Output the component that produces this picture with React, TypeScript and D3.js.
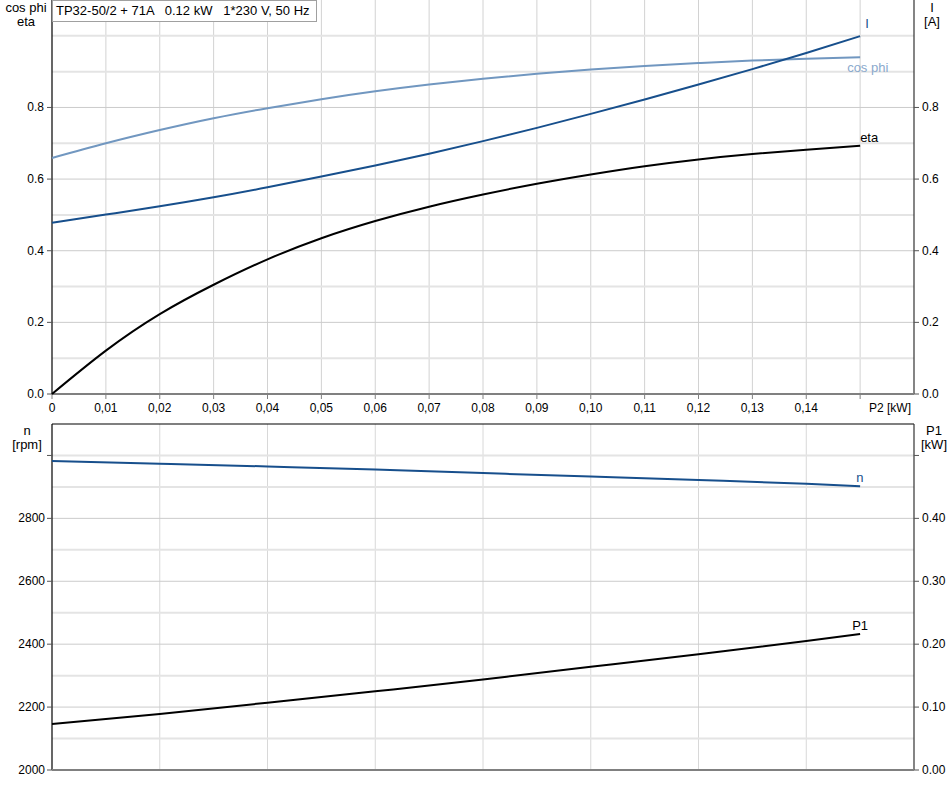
import React from "react";
import * as d3 from "d3";

// ---------- data ----------
const p2Top = [0, 0.01, 0.02, 0.03, 0.04, 0.05, 0.06, 0.07, 0.08, 0.09, 0.1, 0.11, 0.12, 0.13, 0.14, 0.15];
const cosPhi = [0.659, 0.7, 0.737, 0.77, 0.798, 0.823, 0.845, 0.864, 0.88, 0.894, 0.906, 0.916, 0.924, 0.931, 0.936, 0.94];
const current = [0.478, 0.501, 0.524, 0.549, 0.577, 0.607, 0.638, 0.671, 0.706, 0.743, 0.782, 0.822, 0.864, 0.907, 0.952, 0.999];
const eta = [0, 0.121, 0.223, 0.305, 0.376, 0.435, 0.483, 0.523, 0.557, 0.587, 0.613, 0.636, 0.655, 0.67, 0.682, 0.693];

const p2Bottom = [0, 0.02, 0.04, 0.06, 0.08, 0.1, 0.12, 0.14, 0.15];
const speed = [2982, 2974, 2965, 2955, 2944, 2933, 2922, 2910, 2902];
const p1 = [0.073, 0.089, 0.107, 0.125, 0.144, 0.164, 0.184, 0.205, 0.216];

const xTicks = [0, 0.01, 0.02, 0.03, 0.04, 0.05, 0.06, 0.07, 0.08, 0.09, 0.1, 0.11, 0.12, 0.13, 0.14];
const xTickLabels = ["0", "0,01", "0,02", "0,03", "0,04", "0,05", "0,06", "0,07", "0,08", "0,09", "0,10", "0,11", "0,12", "0,13", "0,14"];
const topYTicks = [0, 0.2, 0.4, 0.6, 0.8];
const topYLabels = ["0.0", "0.2", "0.4", "0.6", "0.8"];
const nTicks = [2000, 2200, 2400, 2600, 2800];
const p1Ticks = [0, 0.1, 0.2, 0.3, 0.4];
const p1Labels = ["0.00", "0.10", "0.20", "0.30", "0.40"];

const title = "TP32-50/2 + 71A   0.12 kW   1*230 V, 50 Hz";

// ---------- layout ----------
const L = 52, R = 914;
const TOP_T = 0, TOP_B = 394;
const BOT_T = 424, BOT_B = 770;

const FONT = "Arial, 'Liberation Sans', sans-serif";
const DARK_BLUE = "#174f8c";
const LIGHT_BLUE = "#7197c0";

export default function App() {
  const x = d3.scaleLinear().domain([0, 0.16]).range([L, R]);
  const yTop = d3.scaleLinear().domain([0, 1.1]).range([TOP_B, TOP_T]);
  const yN = d3.scaleLinear().domain([2000, 3100]).range([BOT_B, BOT_T]);
  const yP1 = d3.scaleLinear().domain([0, 0.55]).range([BOT_B, BOT_T]);

  const lineTop = (vals: number[]) =>
    d3.line<number>().x((_, i) => x(p2Top[i])).y((d) => yTop(d)).curve(d3.curveNatural)(vals) || "";
  const lineBot = (vals: number[], ys: d3.ScaleLinear<number, number>) =>
    d3.line<number>().x((_, i) => x(p2Bottom[i])).y((d) => ys(d)).curve(d3.curveNatural)(vals) || "";

  const topH = d3.range(1, 11).map((k) => k / 10);
  const topV = d3.range(1, 16).map((k) => k / 100);
  const botH = d3.range(2100, 3100, 100);
  const botV = d3.range(1, 8).map((k) => (k * 2) / 100);

  const lastTop = p2Top.length - 1;
  const lastBot = p2Bottom.length - 1;

  return (
    <svg width={952} height={788} style={{ position: "absolute", left: 0, top: 0, background: "#fff" }} fontFamily={FONT}>
      <rect x={0} y={0} width={952} height={788} fill="#fff" />
      {/* ---------- TOP CHART ---------- */}
      {topV.map((v) => (
        <line key={"tv" + v} x1={x(v)} x2={x(v)} y1={TOP_T} y2={TOP_B} stroke="#d2d2d2" strokeWidth={1} />
      ))}
      {topH.map((v, i) => {
        const major = i % 2 === 1 && v < 0.95;
        return (
          <line key={"th" + v} x1={L} x2={R} y1={yTop(v)} y2={yTop(v)}
            stroke={major ? "#cbcbcb" : "#e4e4e4"} strokeWidth={major ? 1 : 2} />
        );
      })}
      {/* axes */}
      <line x1={L} x2={L} y1={TOP_T} y2={TOP_B} stroke="#000" strokeWidth={1.2} />
      <line x1={R} x2={R} y1={TOP_T} y2={TOP_B} stroke="#333" strokeWidth={1.2} />
      <line x1={L} x2={R} y1={TOP_B} y2={TOP_B} stroke="#808080" strokeWidth={2} />
      {xTicks.concat([0.15]).map((v) => (
        <line key={"xt" + v} x1={x(v)} x2={x(v)} y1={TOP_B} y2={TOP_B + 5} stroke="#808080" strokeWidth={1} />
      ))}
      {xTicks.map((v, i) => (
        <text key={"xl" + v} x={x(v)} y={412} fontSize={12} textAnchor="middle" fill="#000">{xTickLabels[i]}</text>
      ))}
      <text x={911} y={412} fontSize={12} textAnchor="end" fill="#000">P2 [kW]</text>
      {topYTicks.map((v, i) => (
        <g key={"ty" + v}>
          <line x1={L - 5} x2={L} y1={yTop(v)} y2={yTop(v)} stroke="#555" />
          <text x={44} y={yTop(v) + 4} fontSize={12} textAnchor="end" fill="#000">{topYLabels[i]}</text>
          <line x1={R} x2={R + 5} y1={yTop(v)} y2={yTop(v)} stroke="#555" />
          <text x={922} y={yTop(v) + 4} fontSize={12} textAnchor="start" fill="#000">{topYLabels[i]}</text>
        </g>
      ))}
      <text x={26} y={12} fontSize={13} textAnchor="middle" fill="#000">cos phi</text>
      <text x={26} y={26} fontSize={13} textAnchor="middle" fill="#000">eta</text>
      <text x={932} y={12} fontSize={13} textAnchor="middle" fill="#000">I</text>
      <text x={932} y={26} fontSize={13} textAnchor="middle" fill="#000">[A]</text>

      {/* curves */}
      <path d={lineTop(cosPhi)} fill="none" stroke={LIGHT_BLUE} strokeWidth={2} />
      <path d={lineTop(current)} fill="none" stroke={DARK_BLUE} strokeWidth={2} />
      <path d={lineTop(eta)} fill="none" stroke="#000" strokeWidth={2} />
      <text x={x(p2Top[lastTop]) + 5} y={yTop(current[lastTop]) - 8} fontSize={13} fill={DARK_BLUE}>I</text>
      <text x={x(p2Top[lastTop]) - 13} y={yTop(cosPhi[lastTop]) + 15} fontSize={13} fill="#8aa9cd">cos phi</text>
      <text x={x(p2Top[lastTop])} y={yTop(eta[lastTop]) - 4} fontSize={13} fill="#000">eta</text>

      {/* title box */}
      <rect x={52.5} y={0.5} width={264} height={21} fill="#fff" stroke="#a0a0a0" />
      <text x={56} y={15} fontSize={13} fill="#000" style={{ whiteSpace: "pre" }}>{title}</text>

      {/* ---------- BOTTOM CHART ---------- */}
      {botV.map((v) => (
        <line key={"bv" + v} x1={x(v)} x2={x(v)} y1={BOT_T} y2={BOT_B} stroke="#d8d8d8" strokeWidth={1} />
      ))}
      {botH.map((v) => {
        const major = v % 200 === 0 && v < 3000;
        return (
          <line key={"bh" + v} x1={L} x2={R} y1={yN(v)} y2={yN(v)}
            stroke={major ? "#cbcbcb" : "#e4e4e4"} strokeWidth={major ? 1 : 2} />
        );
      })}
      <line x1={L} x2={R} y1={BOT_T} y2={BOT_T} stroke="#000" strokeWidth={1.2} />
      <line x1={L} x2={L} y1={BOT_T} y2={BOT_B} stroke="#000" strokeWidth={1.2} />
      <line x1={R} x2={R} y1={BOT_T} y2={BOT_B} stroke="#333" strokeWidth={1.2} />
      <line x1={L} x2={R} y1={BOT_B} y2={BOT_B} stroke="#808080" strokeWidth={2} />
      {nTicks.concat([3000]).map((v) => (
        <line key={"nt" + v} x1={L - 5} x2={L} y1={yN(v)} y2={yN(v)} stroke="#555" />
      ))}
      {nTicks.map((v) => (
        <text key={"nl" + v} x={45} y={yN(v) + 4} fontSize={12} textAnchor="end" fill="#000">{v}</text>
      ))}
      {p1Ticks.concat([0.5]).map((v) => (
        <line key={"pt" + v} x1={R} x2={R + 5} y1={yP1(v)} y2={yP1(v)} stroke="#555" />
      ))}
      {p1Ticks.map((v, i) => (
        <text key={"pl" + v} x={922} y={yP1(v) + 4} fontSize={12} textAnchor="start" fill="#000">{p1Labels[i]}</text>
      ))}
      <text x={27} y={435} fontSize={13} textAnchor="middle" fill="#000">n</text>
      <text x={27} y={449} fontSize={13} textAnchor="middle" fill="#000">[rpm]</text>
      <text x={934} y={435} fontSize={13} textAnchor="middle" fill="#000">P1</text>
      <text x={934} y={449} fontSize={13} textAnchor="middle" fill="#000">[kW]</text>

      <path d={lineBot(speed, yN)} fill="none" stroke={DARK_BLUE} strokeWidth={2} />
      <path d={lineBot(p1, yP1)} fill="none" stroke="#000" strokeWidth={2} />
      <text x={x(p2Bottom[lastBot]) - 4} y={yN(speed[lastBot]) - 4} fontSize={13} fill={DARK_BLUE}>n</text>
      <text x={x(p2Bottom[lastBot]) - 8} y={yP1(p1[lastBot]) - 4} fontSize={13} fill="#000">P1</text>
    </svg>
  );
}
